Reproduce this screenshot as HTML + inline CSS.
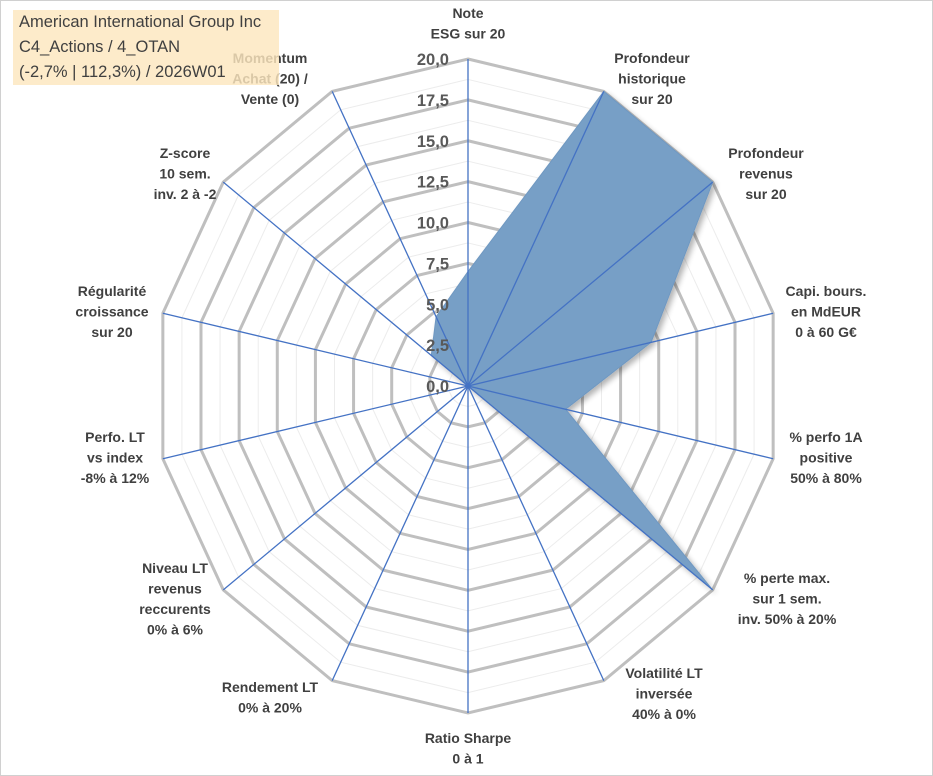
<!DOCTYPE html>
<html><head><meta charset="utf-8"><style>
body{margin:0;background:#fff;font-family:"Liberation Sans",sans-serif}
#wrap{position:relative;width:933px;height:776px;overflow:hidden}
#frame{position:absolute;left:0;top:0;width:931px;height:774px;border:1px solid #d0d0d0}
#title{position:absolute;left:13px;top:10px;width:266px;height:75px;background:rgba(253,231,190,0.82);color:#404040;font-size:16.5px;line-height:25px;padding-left:6px;box-sizing:border-box}
svg{position:absolute;left:0;top:0}
.lbl{font-weight:bold;font-size:14px;fill:#404040}
.tick{font-weight:bold;font-size:16.5px;fill:#595959}
</style></head><body>
<div id="wrap">
<div id="frame"></div>
<svg id="chart" width="933" height="776"></svg>
<div id="title">American International Group Inc<br>C4_Actions / 4_OTAN<br>(-2,7% | 112,3%) / 2026W01</div>
</div>
<script>
const categories=[["Note","ESG sur 20"],["Profondeur","historique","sur 20"],["Profondeur","revenus","sur 20"],["Capi. bours.","en MdEUR","0 à 60 G€"],["% perfo 1A","positive","50% à 80%"],["% perte max.","sur 1 sem.","inv. 50% à 20%"],["Volatilité LT","inversée","40% à 0%"],["Ratio Sharpe","0 à 1"],["Rendement LT","0% à 20%"],["Niveau LT","revenus","reccurents","0% à 6%"],["Perfo. LT","vs index","-8% à 12%"],["Régularité","croissance","sur 20"],["Z-score","10 sem.","inv. 2 à -2"],["Momentum","Achat (20) /","Vente (0)"]];
const values=[7,20,20,12,6.4,20,0,0,0,0,0,0,3,4.7];
const tickLabels=["0,0","2,5","5,0","7,5","10,0","12,5","15,0","17,5","20,0"];
const labelPos=[[468,18],[652,63],[766,158],[826,296],[826,442],[787,583],[664,678],[468,743],[270,692],[175,573],[115,442],[112,296],[185,158],[270,63]];
const NS="http://www.w3.org/2000/svg";
const svg=document.getElementById('chart');
const cx=468,cy=386,RX=313,RY=327,maxV=20,n=categories.length;
function ang(i){return i*2*Math.PI/n;}
function pt(i,v){const f=v/maxV;return [cx+RX*f*Math.sin(ang(i)),cy-RY*f*Math.cos(ang(i))];}
function mk(t,a){const e=document.createElementNS(NS,t);for(const k in a)e.setAttribute(k,a[k]);svg.appendChild(e);return e;}
for(let k=1;k<=16;k++){if(k%2===0)continue;const v=k*1.25;const p=[];for(let i=0;i<n;i++)p.push(pt(i,v).join(','));
const e=mk('polygon',{points:p.join(' '),fill:'none',stroke:'#ececec','stroke-width':1});

}
for(let k=1;k<tickLabels.length;k++){const v=k*2.5;const p=[];for(let i=0;i<n;i++)p.push(pt(i,v).join(','));
const e=mk('polygon',{points:p.join(' '),fill:'none',stroke:'#bfbfbf','stroke-width':3});

}
const sp=values.map((v,i)=>pt(i,v).join(',')).join(' ');
mk('defs',{}).innerHTML='<filter id="sh" x="-10%" y="-10%" width="130%" height="130%"><feGaussianBlur in="SourceAlpha" stdDeviation="3"/><feOffset dx="3" dy="3"/><feComponentTransfer><feFuncA type="linear" slope="0.3"/></feComponentTransfer><feMerge><feMergeNode/><feMergeNode in="SourceGraphic"/></feMerge></filter>';
const poly=mk('polygon',{points:sp,fill:'#779fc6',stroke:'#6f98c1','stroke-width':1,filter:'url(#sh)'});


for(let i=0;i<n;i++){const p=pt(i,maxV);const e=mk('line',{x1:cx,y1:cy,x2:p[0],y2:p[1],stroke:'#4472c4','stroke-width':1.3});

}
tickLabels.forEach((t,k)=>{const y=cy-k*2.5/maxV*RY;const e=mk('text',{x:449,y:y+6,'text-anchor':'end',class:'tick'});e.textContent=t;

});
categories.forEach((lines,i)=>{const [x,y]=labelPos[i];const e=mk('text',{x:x,y:y,'text-anchor':'middle',class:'lbl'});
lines.forEach((l,j)=>{const s=document.createElementNS(NS,'tspan');s.setAttribute('x',x);s.setAttribute('dy',j?20.5:0);s.textContent=l;e.appendChild(s);});

});
</script>
</body></html>
